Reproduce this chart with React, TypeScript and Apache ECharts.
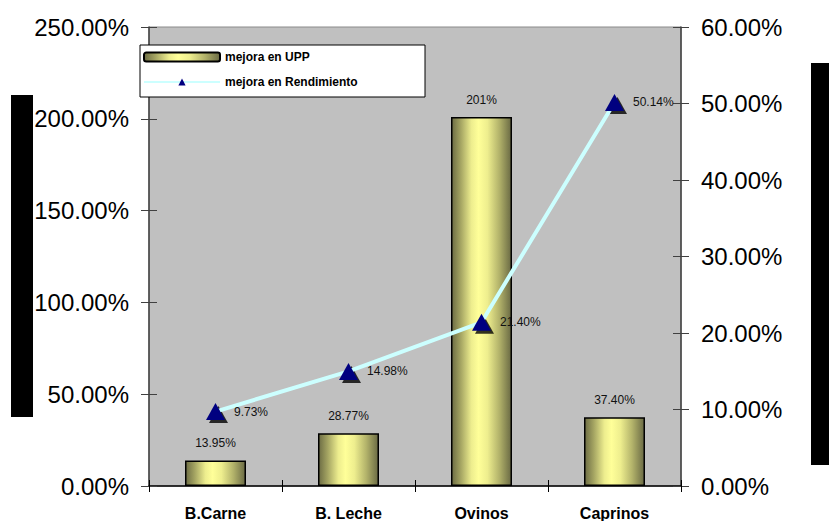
import React, { useEffect, useRef } from "react";
import * as echarts from "echarts";

const categories = ["B.Carne", "B. Leche", "Ovinos", "Caprinos"];
const uppValues = [13.95, 28.77, 201, 37.4];
const rendValues = [9.73, 14.98, 21.4, 50.14];
const seriesNames = ["mejora en UPP", "mejora en Rendimiento"];
const leftAxis = { min: 0, max: 250, interval: 50 };
const rightAxis = { min: 0, max: 60, interval: 10 };

const FONT = "'Liberation Sans', Arial, sans-serif";

export default function App() {
  const ref = useRef<HTMLDivElement>(null);
  useEffect(() => {
    if (!ref.current) return;
    const chart = echarts.init(ref.current, null, { renderer: "svg" });
    const barGradient = new echarts.graphic.LinearGradient(0, 0, 1, 0, [
      { offset: 0, color: "#6C6C44" },
      { offset: 0.15, color: "#A4A462" },
      { offset: 0.33, color: "#EDED8E" },
      { offset: 0.45, color: "#FFFF99" },
      { offset: 0.6, color: "#EEEE8E" },
      { offset: 0.8, color: "#B2B26A" },
      { offset: 1, color: "#6A6A44" },
    ]);
    const pctFmt = (v: number) => v.toFixed(2) + "%";
    const axisLabel = { fontFamily: FONT, fontSize: 24, color: "#000" };
    const yBase = (pos: "left" | "right", ax: any, inside: boolean, showLabel: boolean) => ({
      type: "value",
      position: pos,
      min: ax.min,
      max: ax.max,
      interval: ax.interval,
      splitLine: { show: false },
      axisLine: { show: !inside, lineStyle: { color: "#404040", width: 1.5 } },
      axisTick: { show: true, inside, length: 8, lineStyle: { color: "#404040", width: 1 } },
      axisLabel: { show: showLabel, ...axisLabel, margin: 20, formatter: pctFmt },
    });
    const xBase = (inside: boolean, showLabel: boolean) => ({
      type: "category",
      data: categories,
      position: "bottom",
      boundaryGap: true,
      axisLine: { show: !inside, lineStyle: { color: "#000", width: 1.5 } },
      axisTick: { show: true, inside, length: 6, alignWithLabel: false, interval: 0, lineStyle: { color: "#000", width: 1 } },
      axisLabel: {
        show: showLabel,
        fontFamily: FONT,
        fontSize: 16,
        fontWeight: "bold",
        color: "#000",
        margin: 19,
        interval: 0,
      },
    });
    chart.setOption({
      animation: false,
      backgroundColor: "#fff",
      grid: {
        left: 149,
        right: 148,
        top: 27,
        bottom: 34,
        show: true,
        backgroundColor: "#C0C0C0",
        borderColor: "#8A8A8A",
        borderWidth: 1,
      },
      xAxis: [xBase(false, true), xBase(true, false)],
      yAxis: [
        yBase("left", leftAxis, false, true),
        yBase("right", rightAxis, false, true),
        yBase("left", leftAxis, true, false),
        yBase("right", rightAxis, true, false),
      ],
      legend: {
        data: seriesNames,
        orient: "vertical",
        left: 143,
        top: 51,
        padding: 0,
        itemGap: 13,
        itemWidth: 76,
        itemHeight: 9,
        z: 10,
        textStyle: { fontFamily: FONT, fontSize: 12, fontWeight: "bold", color: "#000" },
      },
      graphic: [
        {
          type: "rect",
          z: 9,
          shape: { x: 140, y: 45, width: 285, height: 52 },
          style: { fill: "#fff", stroke: "#000", lineWidth: 1 },
        },
        { type: "rect", z: 9, shape: { x: 11, y: 95, width: 22, height: 322 }, style: { fill: "#000" } },
        { type: "rect", z: 9, shape: { x: 811, y: 63, width: 18, height: 402 }, style: { fill: "#000" } },
      ],
      series: [
        {
          name: seriesNames[0],
          type: "bar",
          data: uppValues,
          xAxisIndex: 0,
          yAxisIndex: 0,
          barWidth: 61,
          itemStyle: { color: barGradient, borderColor: "#000", borderWidth: 1.5 },
          label: {
            show: true,
            position: "top",
            distance: 11,
            fontFamily: FONT,
            fontSize: 12,
            color: "#111",
            formatter: (p: any) => (Number.isInteger(p.value) ? p.value + "%" : p.value.toFixed(2) + "%"),
          },
          z: 2,
        },
        {
          name: "shadow",
          type: "scatter",
          data: rendValues,
          xAxisIndex: 0,
          yAxisIndex: 1,
          symbol: "triangle",
          symbolSize: [19, 17],
          symbolOffset: [3, 3],
          itemStyle: { color: "#000" },
          silent: true,
          z: 3,
        },
        {
          name: seriesNames[1],
          type: "line",
          data: rendValues,
          xAxisIndex: 0,
          yAxisIndex: 1,
          symbol: "triangle",
          symbolSize: [19, 17],
          lineStyle: { color: "#CCFFFF", width: 4 },
          itemStyle: { color: "#000080" },
          label: {
            show: true,
            position: "right",
            distance: 9,
            fontFamily: FONT,
            fontSize: 12,
            color: "#111",
            formatter: (p: any) => pctFmt(p.value),
          },
          z: 4,
        },
      ],
    });
    return () => chart.dispose();
  }, []);
  return (
    <div
      ref={ref}
      style={{ position: "absolute", left: 0, top: 0, width: 829, height: 521 }}
    />
  );
}
